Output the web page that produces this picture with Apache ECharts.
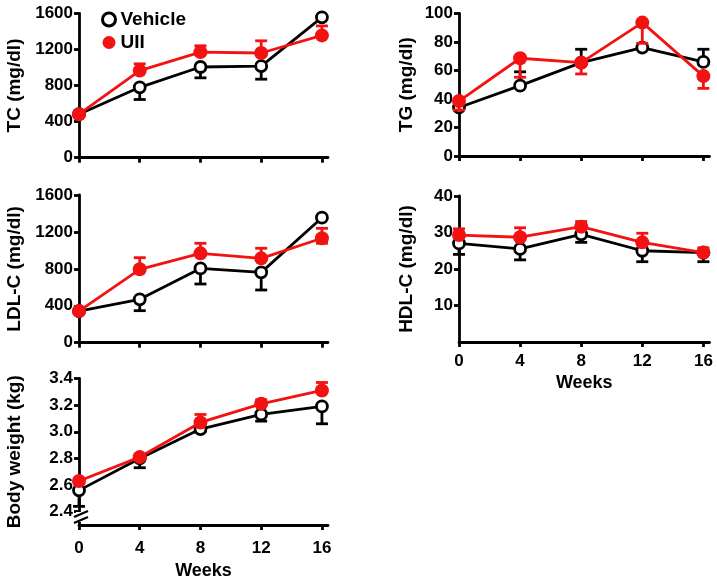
<!DOCTYPE html>
<html>
<head>
<meta charset="utf-8">
<script src="https://cdn.jsdelivr.net/npm/echarts@6/dist/echarts.min.js"></script>
<style>
html,body{margin:0;padding:0;background:#fff;}
#chart{width:717px;height:583px;}
</style>
</head>
<body>
<div id="chart"></div>
<script>
// ---- data ----
const weeks = [0, 4, 8, 12, 16];
const groupNames = ['Vehicle', 'UII'];

// TC (mg/dl)
const tcVehicle      = [482, 780, 1005, 1015, 1555];
const tcVehicleLow   = [455, 645, 885, 870, 1555];
const tcVehicleHigh  = [482, 780, 1005, 1015, 1555];
const tcUII          = [482, 965, 1170, 1160, 1355];
const tcUIILow       = [482, 965, 1170, 1160, 1355];
const tcUIIHigh      = [495, 1040, 1240, 1295, 1460];

// LDL-C (mg/dl)
const ldlVehicle     = [343, 470, 805, 762, 1354];
const ldlVehicleLow  = [330, 347, 636, 571, 1354];
const ldlVehicleHigh = [343, 470, 805, 762, 1354];
const ldlUII         = [343, 795, 968, 914, 1131];
const ldlUIILow      = [343, 795, 968, 914, 1077];
const ldlUIIHigh     = [350, 921, 1077, 1023, 1239];

// Body weight (kg)
const bwVehicle      = [2.56, 2.80, 3.02, 3.13, 3.19];
const bwVehicleLow   = [2.44, 2.73, 3.00, 3.08, 3.06];
const bwVehicleHigh  = [2.56, 2.80, 3.02, 3.13, 3.19];
const bwUII          = [2.63, 2.81, 3.07, 3.21, 3.31];
const bwUIILow       = [2.63, 2.81, 3.07, 3.21, 3.31];
const bwUIIHigh      = [2.65, 2.83, 3.13, 3.24, 3.37];

// TG (mg/dl)
const tgVehicle      = [34, 49.3, 65.4, 76, 65.9];
const tgVehicleLow   = [34, 49.3, 65.4, 76, 65.9];
const tgVehicleHigh  = [34, 59, 74.8, 76, 74.8];
const tgUII          = [38.5, 68.5, 65.4, 93.5, 56];
const tgUIILow       = [32.2, 55.2, 57.5, 79, 47.4];
const tgUIIHigh      = [38.5, 68.5, 65.4, 93.5, 56];

// HDL-C (mg/dl)
const hdlVehicle     = [27, 25.5, 29.5, 25, 24.5];
const hdlVehicleLow  = [24, 22.5, 27.3, 22, 22];
const hdlVehicleHigh = [27, 25.5, 29.5, 25, 24.5];
const hdlUII         = [29.3, 28.7, 31.6, 27.3, 24.5];
const hdlUIILow      = [29.3, 28.7, 31.6, 27.3, 24.5];
const hdlUIIHigh     = [31, 31.3, 33, 29.8, 25.8];

// axis tick labels
const xTicks   = [0, 4, 8, 12, 16];
const tcTicks  = [0, 400, 800, 1200, 1600];
const ldlTicks = [0, 400, 800, 1200, 1600];
const bwTicks  = [2.4, 2.6, 2.8, 3.0, 3.2, 3.4];
const tgTicks  = [0, 20, 40, 60, 80, 100];
const hdlTicks = [10, 20, 30, 40];

// ---- styles ----
const FONT = 'Liberation Sans, Arial, sans-serif';
const BLACK = '#000';
const RED = '#f21212';

const chart = echarts.init(document.getElementById('chart'), null, {renderer: 'canvas'});

const panels = [
  {name: 'TC (mg/dl)', grid: {left: 79, top: 13.3, width: 249, height: 144.4}, min: 0, max: 1600, ticks: tcTicks, showX: false, dec: 0,
   v: [tcVehicle, tcVehicleLow, tcVehicleHigh], u: [tcUII, tcUIILow, tcUIIHigh], nameGap: 55},
  {name: 'LDL-C (mg/dl)', grid: {left: 79, top: 195, width: 249, height: 147.7}, min: 0, max: 1600, ticks: ldlTicks, showX: false, dec: 0,
   v: [ldlVehicle, ldlVehicleLow, ldlVehicleHigh], u: [ldlUII, ldlUIILow, ldlUIIHigh], nameGap: 55},
  {name: 'Body weight (kg)', grid: {left: 79, top: 378.5, width: 249, height: 146.5}, min: 2.3, max: 3.4, ticks: bwTicks, showX: true, dec: 1,
   v: [bwVehicle, bwVehicleLow, bwVehicleHigh], u: [bwUII, bwUIILow, bwUIIHigh], nameGap: 55, labelMargin: 15, xNameGap: 37},
  {name: 'TG (mg/dl)', grid: {left: 459, top: 13.3, width: 250.5, height: 142.7}, min: 0, max: 100, ticks: tgTicks, showX: false, dec: 0,
   v: [tgVehicle, tgVehicleLow, tgVehicleHigh], u: [tgUII, tgUIILow, tgUIIHigh], nameGap: 43},
  {name: 'HDL-C (mg/dl)', grid: {left: 459, top: 196, width: 250.5, height: 146}, min: 0, max: 40, ticks: hdlTicks, showX: true, dec: 0,
   v: [hdlVehicle, hdlVehicleLow, hdlVehicleHigh], u: [hdlUII, hdlUIILow, hdlUIIHigh], nameGap: 43, labelMargin: 11, xNameGap: 32}
];

function errData(mean, low, high) {
  return weeks.map((w, i) => [w, low[i], high[i], mean[i]]);
}

function renderErr(color) {
  return function (params, api) {
    const x = api.value(0), lo = api.value(1), hi = api.value(2), m = api.value(3);
    const pLo = api.coord([x, lo]);
    const pHi = api.coord([x, hi]);
    const pM = api.coord([x, m]);
    const cap = 6;
    const style = {stroke: color, lineWidth: 2.8};
    const children = [{type: 'line', shape: {x1: pLo[0], y1: pLo[1], x2: pHi[0], y2: pHi[1]}, style: style}];
    if (Math.abs(pLo[1] - pM[1]) > 0.5) children.push({type: 'line', shape: {x1: pLo[0] - cap, y1: pLo[1], x2: pLo[0] + cap, y2: pLo[1]}, style: style});
    if (Math.abs(pHi[1] - pM[1]) > 0.5) children.push({type: 'line', shape: {x1: pHi[0] - cap, y1: pHi[1], x2: pHi[0] + cap, y2: pHi[1]}, style: style});
    return {type: 'group', children: children};
  };
}

const grids = [], xAxes = [], yAxes = [], series = [];
panels.forEach((p, i) => {
  grids.push(p.grid);
  xAxes.push({
    type: 'value', gridIndex: i, min: 0, max: 16.4,
    name: p.showX ? 'Weeks' : '', nameLocation: 'middle', nameGap: p.xNameGap || 30,
    nameTextStyle: {fontFamily: FONT, fontWeight: 'bold', fontSize: 18, color: BLACK},
    axisLine: {show: true, onZero: false, lineStyle: {color: BLACK, width: 2.8}},
    axisTick: {show: true, length: 5, lineStyle: {color: BLACK, width: 2.8}, customValues: xTicks},
    axisLabel: {show: p.showX, customValues: xTicks, margin: p.labelMargin || 10,
      formatter: v => String(v),
      fontFamily: FONT, fontWeight: 'bold', fontSize: 17, color: BLACK},
    splitLine: {show: false}
  });
  yAxes.push({
    type: 'value', gridIndex: i, min: p.min, max: p.max,
    name: p.name, nameLocation: 'middle', nameGap: p.nameGap, nameRotate: 90,
    nameTextStyle: {fontFamily: FONT, fontWeight: 'bold', fontSize: 19, color: BLACK},
    axisLine: {show: true, onZero: false, lineStyle: {color: BLACK, width: 2.8}},
    axisTick: {show: true, length: 5, lineStyle: {color: BLACK, width: 2.8}, customValues: p.ticks},
    axisLabel: {customValues: p.ticks, margin: 6, formatter: (v => Number(v).toFixed(p.dec)),
      fontFamily: FONT, fontWeight: 'bold', fontSize: 17, color: BLACK},
    splitLine: {show: false}
  });
  series.push({
    type: 'custom', xAxisIndex: i, yAxisIndex: i, renderItem: renderErr(BLACK),
    data: errData(p.v[0], p.v[1], p.v[2]), z: 2, silent: true
  });
  series.push({
    type: 'line', name: groupNames[0], xAxisIndex: i, yAxisIndex: i,
    data: weeks.map((w, k) => [w, p.v[0][k]]),
    symbol: 'circle', symbolSize: 11,
    lineStyle: {color: BLACK, width: 2.8},
    itemStyle: {color: '#fff', borderColor: BLACK, borderWidth: 2.8},
    z: 3, animation: false
  });
  series.push({
    type: 'custom', xAxisIndex: i, yAxisIndex: i, renderItem: renderErr(RED),
    data: errData(p.u[0], p.u[1], p.u[2]), z: 4, silent: true
  });
  series.push({
    type: 'line', name: groupNames[1], xAxisIndex: i, yAxisIndex: i,
    data: weeks.map((w, k) => [w, p.u[0][k]]),
    symbol: 'circle', symbolSize: 14,
    lineStyle: {color: RED, width: 2.8},
    itemStyle: {color: RED, borderColor: RED, borderWidth: 0},
    z: 5, animation: false
  });
});

chart.setOption({
  animation: false,
  backgroundColor: '#fff',
  grid: grids,
  xAxis: xAxes,
  yAxis: yAxes,
  legend: {
    orient: 'vertical', left: 96, top: 5, itemGap: 4,
    itemWidth: 13, itemHeight: 13, selectedMode: false,
    textStyle: {fontFamily: FONT, fontWeight: 'bold', fontSize: 19, color: BLACK, lineHeight: 18},
    data: [
      {name: groupNames[0], icon: 'circle', itemStyle: {color: '#fff', borderColor: BLACK, borderWidth: 3}},
      {name: groupNames[1], icon: 'circle', itemStyle: {color: RED, borderWidth: 0}}
    ]
  },
  graphic: [
    {type: 'rect', shape: {x: 76, y: 512, width: 8, height: 10}, style: {fill: '#fff'}, z: 100},
    {type: 'line', shape: {x1: 74, y1: 517, x2: 88, y2: 511}, style: {stroke: BLACK, lineWidth: 2.2}, z: 101},
    {type: 'line', shape: {x1: 74, y1: 523, x2: 88, y2: 517}, style: {stroke: BLACK, lineWidth: 2.2}, z: 101}
  ],
  series: series
});
</script>
</body>
</html>
